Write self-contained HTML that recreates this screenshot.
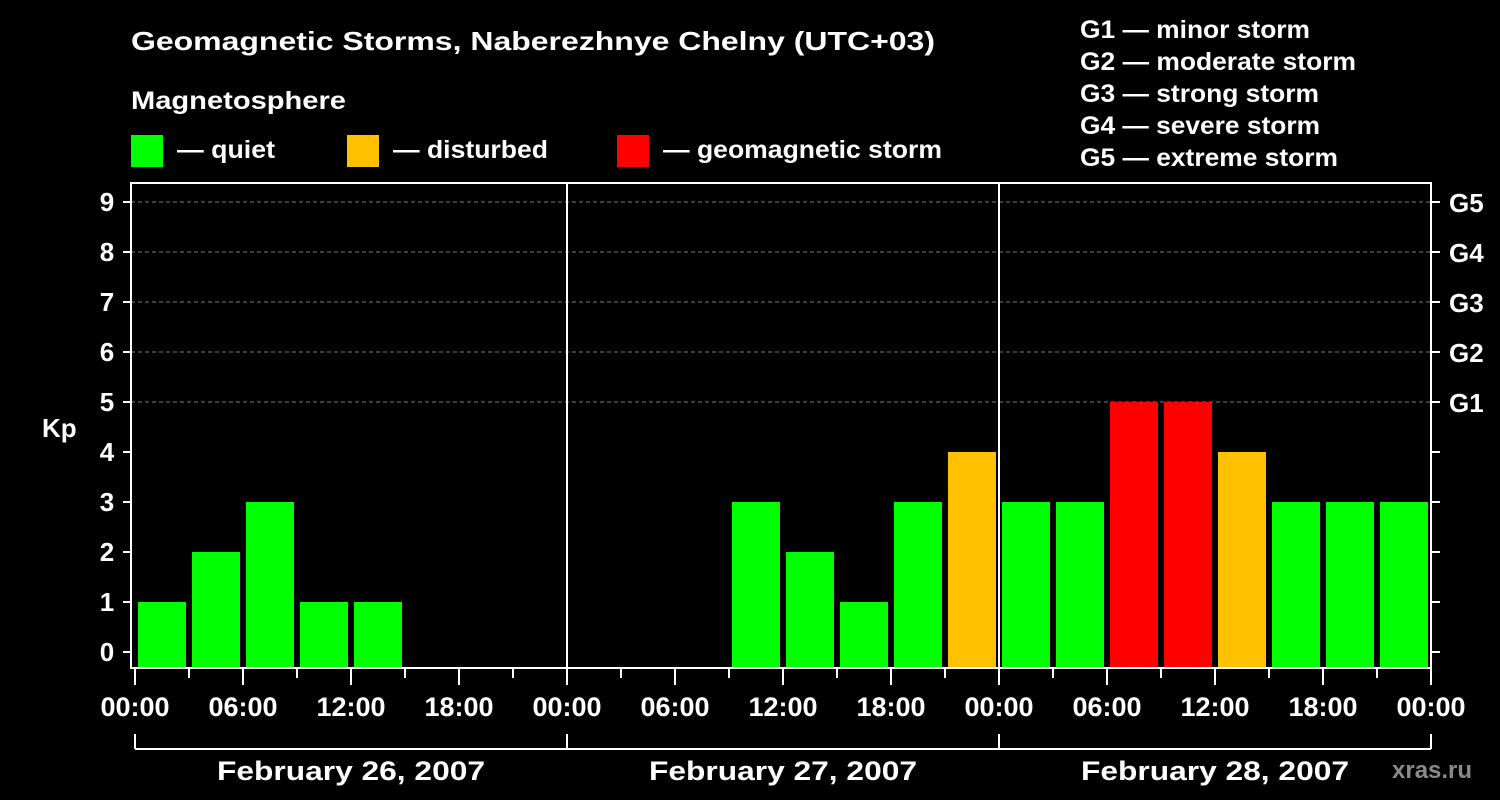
<!DOCTYPE html>
<html><head><meta charset="utf-8"><style>
body{margin:0;background:#000;width:1500px;height:800px;overflow:hidden}
svg{display:block}
text{font-family:"Liberation Sans",sans-serif;font-weight:bold;fill:#fff}
</style></head><body>
<svg id="c" width="1500" height="800">
<text x="131" y="50" font-size="26" textLength="804" lengthAdjust="spacingAndGlyphs">Geomagnetic Storms, Naberezhnye Chelny (UTC+03)</text>
<text x="131" y="109" font-size="25" textLength="215" lengthAdjust="spacingAndGlyphs">Magnetosphere</text>
<rect x="131" y="135" width="32" height="32" fill="#00ff00"/>
<text x="177" y="158" font-size="25" textLength="98" lengthAdjust="spacingAndGlyphs">— quiet</text>
<rect x="347" y="135" width="32" height="32" fill="#ffc000"/>
<text x="393" y="158" font-size="25" textLength="155" lengthAdjust="spacingAndGlyphs">— disturbed</text>
<rect x="617" y="135" width="32" height="32" fill="#ff0000"/>
<text x="663" y="158" font-size="25" textLength="279" lengthAdjust="spacingAndGlyphs">— geomagnetic storm</text>
<g font-size="25">
<text x="1080" y="38" textLength="230" lengthAdjust="spacingAndGlyphs">G1 — minor storm</text>
<text x="1080" y="70" textLength="276" lengthAdjust="spacingAndGlyphs">G2 — moderate storm</text>
<text x="1080" y="102" textLength="239" lengthAdjust="spacingAndGlyphs">G3 — strong storm</text>
<text x="1080" y="134" textLength="240" lengthAdjust="spacingAndGlyphs">G4 — severe storm</text>
<text x="1080" y="166" textLength="258" lengthAdjust="spacingAndGlyphs">G5 — extreme storm</text>
</g>
<text x="42" y="437" font-size="26">Kp</text>
<text x="1392" y="778" font-size="24" style="fill:#8a8a8a">xras.ru</text>
<g id="plot"></g>
</svg>
<script>
const days = ["February 26, 2007","February 27, 2007","February 28, 2007"];
const kp = [1,2,3,1,1,null,null,null, null,null,null,3,2,1,3,4, 3,3,5,5,4,3,3,3];
const yTicks = [0,1,2,3,4,5,6,7,8,9];
const gLabels = ["G1","G2","G3","G4","G5"];
const hourLabels = ["00:00","06:00","12:00","18:00"];

const X0=135, dayW=432, plotTop=183, plotBottom=668, L=131, R=1431;
const yS = v => 652 - 50*v;
const xh = h => X0 + h*18;
const ns="http://www.w3.org/2000/svg";
const g=document.getElementById('plot');
function el(t,a){const e=document.createElementNS(ns,t);for(const k in a)e.setAttribute(k,a[k]);g.appendChild(e);return e;}

yTicks.forEach(v=>{
  if(v>=5){const l=el('line',{x1:L,x2:R,y1:yS(v),y2:yS(v),stroke:'#777','stroke-dasharray':'4,3'});
  
  }
  const t=el('line',{x1:L-8,x2:L,y1:yS(v),y2:yS(v),stroke:'#fff','stroke-width':2});
  
  
  const t2=el('line',{x1:R,x2:R+9,y1:yS(v),y2:yS(v),stroke:'#fff','stroke-width':2});
  
  
  const tx=el('text',{x:L-24,y:yS(v)+9,'font-size':26,'text-anchor':'middle'});
  tx.textContent=v;
  
  
});
gLabels.forEach((s,i)=>{
  const tx=el('text',{x:R+18,y:yS(5+i)+10,'font-size':26});
  tx.textContent=s;
  
  
});
kp.forEach((v,i)=>{
  if(v===null)return;
  const c=v>=5?'#ff0000':(v>=4?'#ffc000':'#00ff00');
  const r=el('rect',{x:xh(i*3)+3,y:yS(v),width:48,height:plotBottom-yS(v),fill:c});
  
  
});
const f=el('rect',{x:L,y:plotTop,width:R-L,height:plotBottom-plotTop,fill:'none',stroke:'#fff','stroke-width':2});


for(let d=1;d<days.length;d++){
  const l=el('line',{x1:X0+d*dayW,x2:X0+d*dayW,y1:plotTop,y2:plotBottom,stroke:'#fff','stroke-width':2});
  
  
}
for(let h=0;h<=72;h+=3){
  const major=h%6===0;
  const l=el('line',{x1:xh(h),x2:xh(h),y1:plotBottom,y2:major?685:678,stroke:'#fff','stroke-width':2});
  
  
  if(major){
    const tx=el('text',{x:xh(h),y:716,'font-size':27,'text-anchor':'middle'});
    tx.textContent=hourLabels[(h/6)%4];
    
    
  }
}
const b=el('line',{x1:X0,x2:X0+3*dayW,y1:749,y2:749,stroke:'#fff','stroke-width':2});


for(let d=0;d<=days.length;d++){
  const l=el('line',{x1:X0+d*dayW,x2:X0+d*dayW,y1:734,y2:749,stroke:'#fff','stroke-width':2});
  
  
}
days.forEach((s,d)=>{
  const tx=el('text',{x:X0+d*dayW+dayW/2,y:780,'font-size':27,'text-anchor':'middle',textLength:268,lengthAdjust:'spacingAndGlyphs'});
  tx.textContent=s;
  
  
});
</script>
</body></html>
